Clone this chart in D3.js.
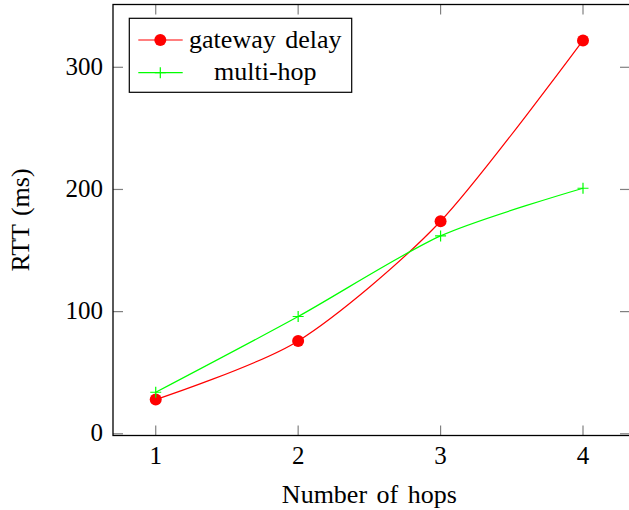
<!DOCTYPE html>
<html lang="en">
<head>
<meta charset="utf-8">
<script src="https://d3js.org/d3.v7.min.js"></script>
<style>
  body { margin: 0; background: #fff; }
  svg text { font-family: "Liberation Serif", "Times New Roman", serif; }
</style>
</head>
<body>
<div id="chart"></div>
<script>
const hops = [1, 2, 3, 4];
const gatewayDelay = [28, 76, 174, 322];
const multiHop = [34, 96, 162, 201];
const yTicks = [0, 100, 200, 300];

const W = 629, H = 510;
const margin = {top: 4.5, right: -1, bottom: 74.5, left: 113};
const width = W - margin.left - margin.right,
      height = H - margin.top - margin.bottom;

const root = d3.select("#chart")
  .append("svg")
    .attr("width", W)
    .attr("height", H);

const svg = root.append("g")
    .attr("transform", `translate(${margin.left},${margin.top})`);

const x = d3.scaleLinear().domain([0.7, 4.33]).range([0, width]);
const y = d3.scaleLinear().domain([-1.4, 351.4]).range([height, 0]);

const tickLen = 10;

// ticks, inward on all four sides
const xt = svg.append("g").attr("stroke", "#808080").attr("stroke-width", 1.2);
hops.forEach(h => {
  xt.append("line").attr("x1", x(h)).attr("x2", x(h)).attr("y1", height).attr("y2", height - tickLen);
  xt.append("line").attr("x1", x(h)).attr("x2", x(h)).attr("y1", 0).attr("y2", tickLen);
});
yTicks.forEach(v => {
  xt.append("line").attr("x1", 0).attr("x2", tickLen).attr("y1", y(v)).attr("y2", y(v));
  xt.append("line").attr("x1", width).attr("x2", width - tickLen).attr("y1", y(v)).attr("y2", y(v));
});

svg.selectAll(".xlab")
  .data(hops)
  .enter().append("text")
    .attr("x", d => x(d))
    .attr("y", height + 28.5)
    .attr("text-anchor", "middle")
    .style("font-size", "25px")
    .text(d => d);

svg.selectAll(".ylab")
  .data(yTicks)
  .enter().append("text")
    .attr("x", -10)
    .attr("y", d => y(d))
    .attr("dy", "0.3em")
    .attr("text-anchor", "end")
    .style("font-size", "25px")
    .text(d => d);

// frame
svg.append("rect")
  .attr("x", 0).attr("y", 0)
  .attr("width", width).attr("height", height)
  .attr("fill", "none")
  .attr("stroke", "#000")
  .attr("stroke-width", 1.3);

svg.append("text")
  .attr("x", x(2.5))
  .attr("y", height + 67)
  .attr("text-anchor", "middle")
  .attr("word-spacing", "3px")
  .style("font-size", "26px")
  .text("Number of hops");

svg.append("text")
  .attr("transform", `translate(${-margin.left + 29},${y(175) })rotate(-90)`)
  .attr("text-anchor", "middle")
  .attr("word-spacing", "2px")
  .style("font-size", "26px")
  .text("RTT (ms)");

// smooth lines
const line = d3.line()
  .x(d => x(d[0]))
  .y(d => y(d[1]))
  .curve(d3.curveCardinal.tension(0.2));

const gwData = hops.map((h, i) => [h, gatewayDelay[i]]);
const mhData = hops.map((h, i) => [h, multiHop[i]]);

svg.append("path")
  .datum(gwData)
  .attr("fill", "none")
  .attr("stroke", "red")
  .attr("stroke-width", 1.2)
  .attr("d", line);

svg.append("path")
  .datum(mhData)
  .attr("fill", "none")
  .attr("stroke", "lime")
  .attr("stroke-width", 1.2)
  .attr("d", line);

svg.selectAll(".gw")
  .data(gwData)
  .enter().append("circle")
    .attr("cx", d => x(d[0]))
    .attr("cy", d => y(d[1]))
    .attr("r", 6)
    .attr("fill", "red");

svg.selectAll(".mh")
  .data(mhData)
  .enter().append("path")
    .attr("transform", d => `translate(${x(d[0])},${y(d[1])})`)
    .attr("d", "M-5.5,0H5.5M0,-5.5V5.5")
    .attr("stroke", "lime")
    .attr("stroke-width", 1.2)
    .attr("fill", "none");

// legend
const lg = svg.append("g").attr("transform", `translate(${129.3 - margin.left},${18.3 - margin.top})`);
lg.append("rect")
  .attr("width", 222.4).attr("height", 74)
  .attr("fill", "#fff")
  .attr("stroke", "#000")
  .attr("stroke-width", 1.2);

const entries = [
  {name: "gateway delay", color: "red", mark: "circle"},
  {name: "multi-hop", color: "lime", mark: "plus"}
];
entries.forEach((e, i) => {
  const cy = 21.7 + i * 32.7;
  lg.append("line")
    .attr("x1", 9).attr("x2", 53.4)
    .attr("y1", cy).attr("y2", cy)
    .attr("stroke", e.color)
    .attr("stroke-width", 1.2);
  if (e.mark === "circle") {
    lg.append("circle").attr("cx", 31).attr("cy", cy).attr("r", 6).attr("fill", e.color);
  } else {
    lg.append("path")
      .attr("transform", `translate(31,${cy})`)
      .attr("d", "M-5.5,0H5.5M0,-5.5V5.5")
      .attr("stroke", e.color)
      .attr("stroke-width", 1.2);
  }
  lg.append("text")
    .attr("x", 136)
    .attr("y", cy)
    .attr("dy", "0.3em")
    .attr("text-anchor", "middle")
    .attr("word-spacing", "3px")
    .style("font-size", "26px")
    .text(e.name);
});
</script>
</body>
</html>
